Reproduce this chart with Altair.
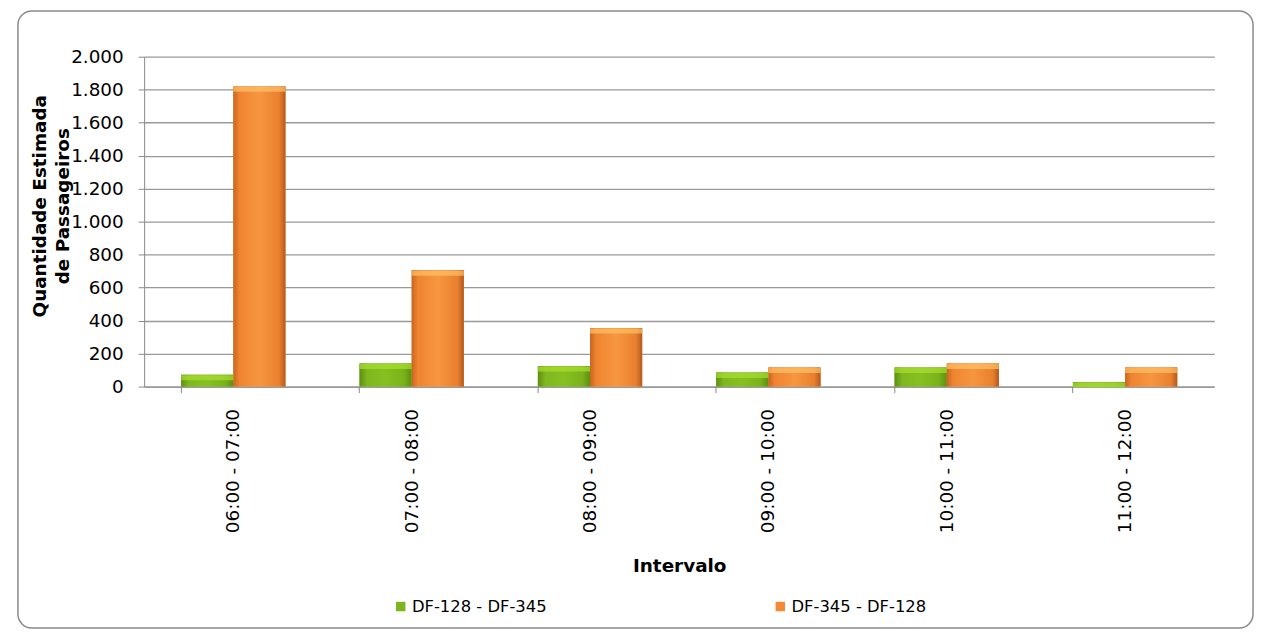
import altair as alt
import pandas as pd

intervalos = ["06:00 - 07:00", "07:00 - 08:00", "08:00 - 09:00",
              "09:00 - 10:00", "10:00 - 11:00", "11:00 - 12:00"]
series = ["DF-128 - DF-345", "DF-345 - DF-128"]
valores_128_345 = [72, 140, 125, 85, 115, 28]
valores_345_128 = [1820, 705, 355, 115, 140, 115]
y_ticks = [0, 200, 400, 600, 800, 1000, 1200, 1400, 1600, 1800, 2000]
colors = ["#7cb51c", "#f58a33"]

rows = []
for i, iv in enumerate(intervalos):
    rows.append({"Intervalo": iv, "Serie": series[0], "Valor": valores_128_345[i]})
    rows.append({"Intervalo": iv, "Serie": series[1], "Valor": valores_345_128[i]})
df = pd.DataFrame(rows)

FONT = "DejaVu Sans"
W, H = 1077, 332

x_enc = alt.X("Intervalo:N", sort=intervalos,
              scale=alt.Scale(paddingInner=0.415, paddingOuter=0.2075),
              axis=alt.Axis(title="Intervalo", labelAngle=270, labelAlign="right",
                            labelBaseline="middle", labelFontSize=18.5, labelPadding=16,
                            labelColor="#000", bandPosition=0, tickSize=6,
                            tickColor="#888", domainColor="#888", grid=False,
                            titleFontSize=18.5, titleFontWeight="bold", titleColor="#000",
                            titlePadding=24))
y_enc = alt.Y("Valor:Q", scale=alt.Scale(domain=[0, 2000], nice=False),
              axis=alt.Axis(title=["Quantidade Estimada", "de Passageiros"],
                            values=y_ticks, format=",d",
                            labelExpr="replace(datum.label, ',', '.')",
                            labelFontSize=18.5, labelPadding=15,
                            labelColor="#000", tickSize=6, tickColor="#888",
                            domainColor="#888", gridColor="#999", gridWidth=1.3,
                            titleFontSize=18.5, titleFontWeight="bold", titleColor="#000",
                            titleX=-95, titleY=150, titleAngle=270, titleAlign="center",
                            titleBaseline="bottom", titleLineHeight=23))
xoff = alt.XOffset("Serie:N", scale=alt.Scale(domain=series, paddingInner=0, paddingOuter=0))

base = alt.Chart(df)

legend_layer = base.mark_bar().encode(
    x=x_enc, y=y_enc, xOffset=xoff,
    color=alt.Color("Serie:N", scale=alt.Scale(domain=series, range=colors),
                    legend=alt.Legend(title=None, orient="none", legendX=250, legendY=545,
                                      direction="horizontal", symbolType="square",
                                      symbolSize=90, labelFontSize=16.5, labelColor="#000",
                                      columnPadding=226, labelLimit=300, labelOffset=3,
                                      symbolStrokeWidth=0)))

grad_green = alt.Gradient(gradient="linear", x1=0, x2=1, y1=0, y2=0, stops=[
    alt.GradientStop(color="#5e8f10", offset=0),
    alt.GradientStop(color="#7fb81f", offset=0.15),
    alt.GradientStop(color="#86c020", offset=0.5),
    alt.GradientStop(color="#7ab21a", offset=0.85),
    alt.GradientStop(color="#5e8f10", offset=1)])
grad_orange = alt.Gradient(gradient="linear", x1=0, x2=1, y1=0, y2=0, stops=[
    alt.GradientStop(color="#c9651f", offset=0),
    alt.GradientStop(color="#ef8431", offset=0.12),
    alt.GradientStop(color="#f79640", offset=0.5),
    alt.GradientStop(color="#e9802f", offset=0.88),
    alt.GradientStop(color="#b25a1c", offset=1)])

g_layer = base.transform_filter(alt.datum.Serie == series[0]).mark_bar(
    fill=grad_green).encode(x=x_enc, y=y_enc, xOffset=xoff)
o_layer = base.transform_filter(alt.datum.Serie == series[1]).mark_bar(
    fill=grad_orange).encode(x=x_enc, y=y_enc, xOffset=xoff)

cap_g = base.transform_filter(alt.datum.Serie == series[0]).mark_tick(
    orient="horizontal", thickness=5, color="#a8e030", yOffset=3).encode(
    x=x_enc, y=y_enc, xOffset=xoff)
cap_o = base.transform_filter(alt.datum.Serie == series[1]).mark_tick(
    orient="horizontal", thickness=5, color="#ffc265", yOffset=3).encode(
    x=x_enc, y=y_enc, xOffset=xoff)

border = alt.Chart(pd.DataFrame({"a": [0]})).mark_rect(
    filled=False, stroke="#8a8a8a", strokeWidth=1.5, cornerRadius=14).encode(
    x=alt.value(-127), x2=alt.value(1116), y=alt.value(-46), y2=alt.value(575))

chart = alt.layer(border, legend_layer, g_layer, o_layer, cap_g, cap_o).properties(
    width=W, height=H,
    autosize=alt.AutoSizeParams(type="none"),
    padding={"left": 137, "top": 47, "right": 44, "bottom": 247},
).configure(font=FONT).configure_view(stroke=None)

chart.save("out.html", embed_options={"renderer": "svg", "actions": False})
